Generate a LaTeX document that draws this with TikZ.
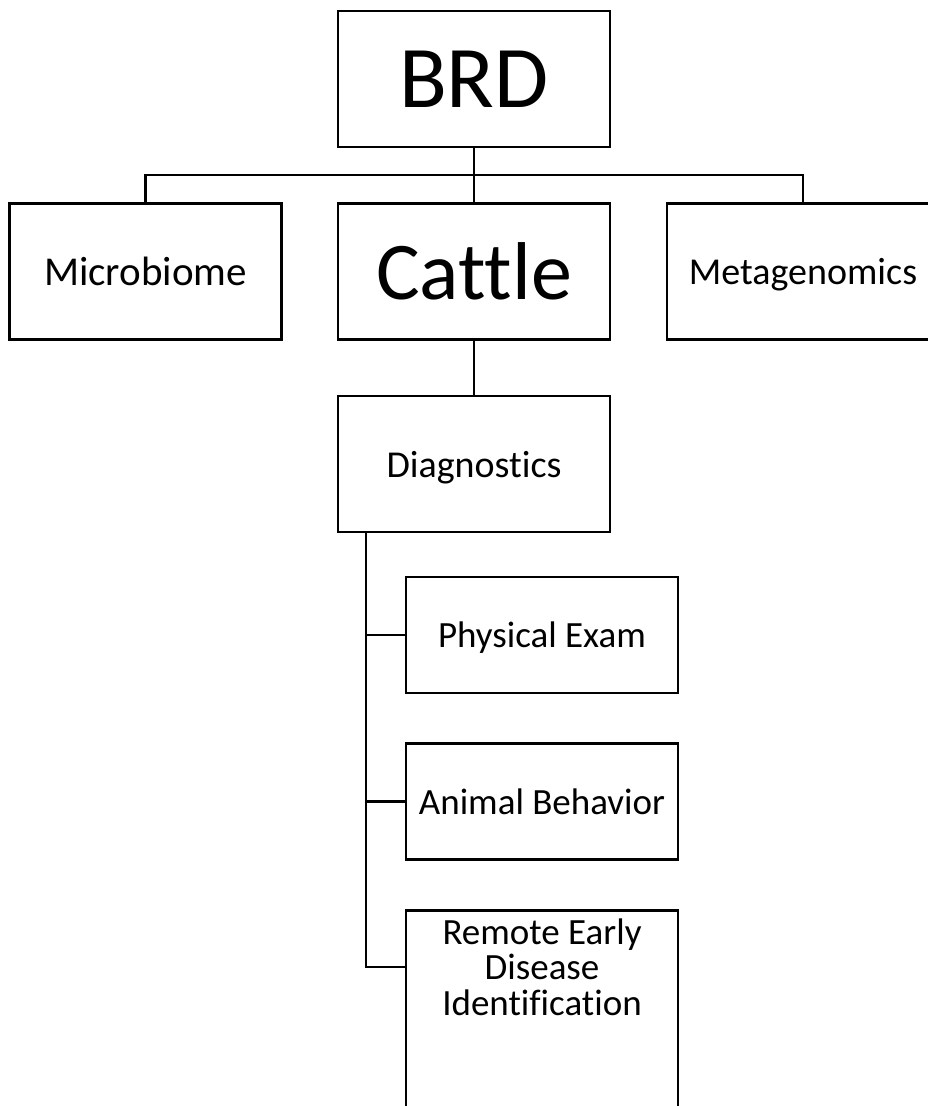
\documentclass[tikz,border=0pt]{standalone}
\usepackage{fontspec}
\setmainfont{Carlito}[Ligatures={NoCommon}]
\usetikzlibrary{positioning,calc}

\begin{document}
\begin{tikzpicture}[x=1pt, y=-1pt]
    \tikzstyle{box}=[rectangle,
				% The border:
				draw=black, line width=2.8pt,
				% The size:
				minimum width=272pt, minimum height=136pt, inner sep=0pt,
				align=center, text depth=0pt
				]
    \tikzstyle{small box}=[box, minimum height=116pt]
    \tikzstyle{link}=[line width=2.8pt]
    \useasboundingbox (0,0) rectangle (928,1106);
    \clip (0,0) rectangle (928,1106);

    \node[box, font=\fontsize{88}{88}\selectfont] (brd) at (474,79) {BRD};
    \node[box, font=\fontsize{41}{41}\selectfont] (microbiome) at (145.5,271.5) {Microbiome};
    \node[box, font=\fontsize{82}{82}\selectfont] (cattle) at (474,271.5) {Cattle};
    \node[box, font=\fontsize{38}{38}\selectfont] (metagenomics) at (803,271.5) {Metagenomics};
    \node[box, font=\fontsize{38}{38}\selectfont] (diagnostics) at (474,464) {Diagnostics};
    \node[small box, font=\fontsize{37}{37}\selectfont] (exam) at (542,635) {Physical Exam};
    \node[small box, font=\fontsize{37}{37}\selectfont] (behavior) at (542,801.5) {Animal Behavior};
    \node[small box, minimum height=240pt, anchor=north] (remote) at (542,909) {};
    \node[font=\fontsize{37}{35.5}\selectfont, align=center] (remotetext) at (542,967) {Remote Early\\Disease\\Identification};

    % Connectors
    \coordinate (split) at (474,175);
    \coordinate (trunk) at ([xshift=-108pt]diagnostics.south);
    \draw[link] (brd.south) -- (split);
    \draw[link] (microbiome.north) |- (split) -| (metagenomics.north);
    \draw[link] (split) -- (cattle.north);
    \draw[link] (cattle.south) -- (diagnostics.north);
    \draw[link] (trunk) |- (exam.west);
    \draw[link] (trunk) |- (behavior.west);
    \draw[link] (trunk) |- (remote.west |- remotetext.center);
\end{tikzpicture}
\end{document}
